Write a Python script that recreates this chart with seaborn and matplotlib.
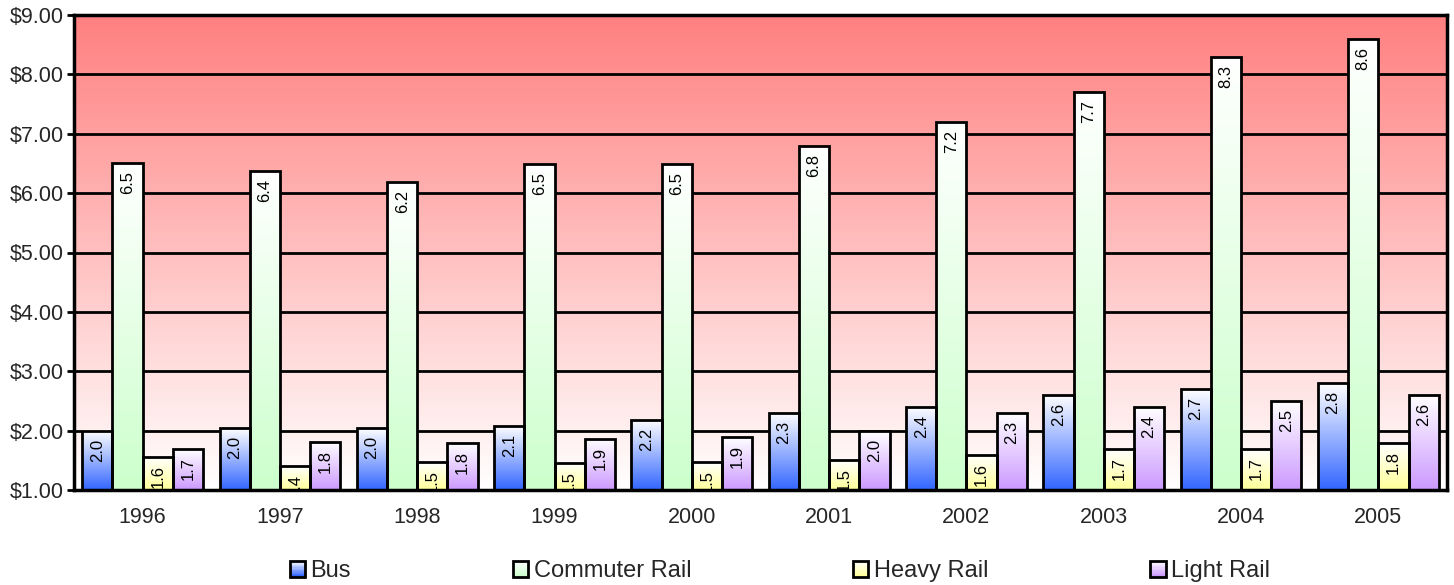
import numpy as np
import pandas as pd
import matplotlib
matplotlib.use("Agg")
import matplotlib.pyplot as plt
import matplotlib.transforms as mtransforms
import seaborn as sns
from matplotlib.colors import to_rgb
from matplotlib.patches import Rectangle
from matplotlib.legend_handler import HandlerBase

years = ["1996", "1997", "1998", "1999", "2000", "2001", "2002", "2003", "2004", "2005"]
modes = ["Bus", "Commuter Rail", "Heavy Rail", "Light Rail"]
bus = [2.0, 2.04, 2.04, 2.08, 2.18, 2.3, 2.4, 2.6, 2.7, 2.8]
commuter = [6.5, 6.37, 6.19, 6.49, 6.49, 6.79, 7.2, 7.7, 8.29, 8.59]
heavy = [1.56, 1.40, 1.47, 1.46, 1.47, 1.5, 1.59, 1.69, 1.69, 1.79]
light = [1.69, 1.81, 1.79, 1.86, 1.89, 1.99, 2.3, 2.4, 2.5, 2.6]
yticks = [1, 2, 3, 4, 5, 6, 7, 8, 9]

colors = {"Bus": "#3366FF", "Commuter Rail": "#CCFFCC",
          "Heavy Rail": "#FFFF99", "Light Rail": "#CC99FF"}

df = pd.DataFrame({
    "Year": years * 4,
    "Mode": [m for m in modes for _ in years],
    "Fare": bus + commuter + heavy + light,
})

sns.set_theme(style="white")
plt.rcParams["font.family"] = ["Liberation Sans", "DejaVu Sans"]

fig = plt.figure(figsize=(14.54, 5.85), dpi=100)
ax = fig.add_axes([74 / 1454, 1 - 490 / 585, (1447 - 74) / 1454, (490 - 15) / 585])

sns.barplot(data=df, x="Year", y="Fare", hue="Mode", order=years, hue_order=modes,
            palette=colors, saturation=1, width=0.88, edgecolor="black",
            linewidth=2.0, legend=False, ax=ax, errorbar=None)

ax.set_xlim(-0.5, 9.5)
ax.set_ylim(1, 9)

# background gradient
bg = np.zeros((256, 1, 3))
top = np.array([255, 128, 128]) / 255.0
for i in range(256):
    f = i / 255.0
    bg[i, 0] = top * (1 - f) + np.ones(3) * f
ax.imshow(bg, extent=[0, 1, 0, 1], transform=ax.transAxes, aspect="auto",
          zorder=0.1, interpolation="bilinear")

off = mtransforms.offset_copy(ax.transData, fig=fig, x=0, y=-8, units="dots")

for mode, cont in zip(modes, ax.containers):
    c = np.array(to_rgb(colors[mode]))
    grad = np.zeros((128, 1, 3))
    for i in range(128):
        f = i / 127.0
        grad[i, 0] = np.ones(3) * (1 - f) + c * f
    for p in cont.patches:
        x0, w, h = p.get_x(), p.get_width(), p.get_height()
        p.set_facecolor("none")
        p.set_zorder(2)
        ax.imshow(grad, extent=[x0, x0 + w, 1, h], aspect="auto", zorder=1.5,
                  interpolation="bilinear")
        t = ax.text(x0 + w / 2, h, f"{h:.1f}", rotation=90, ha="center", va="top",
                    fontsize=12, color="black", transform=off, zorder=3, clip_on=True)
        t.set_clip_box(ax.bbox)

ax.set_xlim(-0.5, 9.5)
ax.set_ylim(1, 9)

ax.set_axisbelow(True)
ax.yaxis.grid(True, color="black", linewidth=2)
ax.xaxis.grid(False)
ax.set_yticks(yticks)
ax.set_yticklabels([f"${v:.2f}" for v in yticks])
ax.tick_params(axis="y", direction="out", length=5, width=2, color="black",
               labelsize=15.5, pad=2, left=True)
ax.tick_params(axis="x", length=0, labelsize=15.5, pad=12)
ax.set_xlabel("")
ax.set_ylabel("")
for s in ax.spines.values():
    s.set_visible(True)
    s.set_color("black")
    s.set_linewidth(2.5)


class GradHandler(HandlerBase):
    def __init__(self, color):
        super().__init__()
        self.color = np.array(to_rgb(color))

    def create_artists(self, legend, orig_handle, xdescent, ydescent, width,
                       height, fontsize, trans):
        arts = []
        n = 12
        for i in range(n):
            f = i / (n - 1)
            col = self.color * (1 - f) + np.ones(3) * f
            arts.append(Rectangle((-xdescent, -ydescent + height * i / n), width,
                                  height / n + 0.3, facecolor=col, edgecolor="none",
                                  transform=trans))
        arts.append(Rectangle((-xdescent, -ydescent), width, height, fill=False,
                              edgecolor="black", linewidth=2.0, transform=trans))
        return arts


handles = [Rectangle((0, 0), 1, 1) for _ in modes]
hmap = {h: GradHandler(colors[m]) for h, m in zip(handles, modes)}
fig.legend(handles, modes, handler_map=hmap, loc="center",
           bbox_to_anchor=(780 / 1454, 1 - 571 / 585), ncol=4, frameon=False,
           fontsize=17, handlelength=0.64, handleheight=0.64, handletextpad=0.25,
           columnspacing=6.85, borderpad=0, borderaxespad=0)

fig.savefig("out.png", dpi=100)
